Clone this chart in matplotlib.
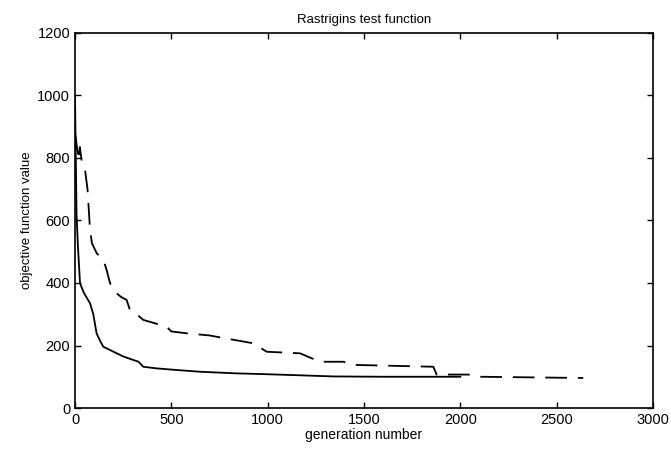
import numpy as np
import matplotlib.pyplot as plt

plt.rcParams['font.family'] = ['Liberation Sans', 'DejaVu Sans']

# solid curve
gen_a = [0, 3, 8, 15, 26, 45, 78, 95, 112, 130, 147, 200, 250, 301, 330, 354, 420, 519,
         650, 830, 1000, 1150, 1340, 1600, 1860, 2000]
val_a = [1000, 850, 620, 520, 399, 370, 335, 300, 239, 215, 196, 180, 165, 154, 148, 132,
         127, 122, 116, 111, 108, 105, 101, 100, 100, 100]

# dashed curve
gen_b = [0, 5, 10, 20, 25, 35, 52, 65, 78, 88, 113, 147, 165, 182, 216, 240, 268, 285,
         320, 354, 476, 500, 580, 700, 735, 925, 995, 1168, 1271, 1393, 1444, 1860,
         1877, 2040, 2102, 2638]
val_b = [880, 860, 835, 793, 835, 790, 762, 700, 570, 527, 495, 474, 440, 399, 367, 355,
         346, 314, 300, 282, 260, 245, 239, 232, 228, 207, 180, 175, 148, 148, 138, 132,
         107, 107, 100, 96]

fig = plt.figure(figsize=(6.71, 4.5), dpi=100)
ax = fig.add_axes([75 / 671, 1 - 408 / 450, (653 - 75) / 671, (408 - 33) / 450])

ax.plot(gen_a, val_a, color='black', lw=1.3)
ax.plot(gen_b, val_b, color='black', lw=1.3, dashes=(12, 6))

ax.set_xlim(0, 3000)
ax.set_ylim(0, 1200)
ax.set_xticks(range(0, 3001, 500))
ax.set_yticks(range(0, 1201, 200))
ax.tick_params(direction='in', top=True, right=True, length=4, width=1, labelsize=10.5,
               colors='black')
for s in ax.spines.values():
    s.set_linewidth(1.2)

ax.set_title('Rastrigins test function', fontsize=9.5, pad=7)
ax.set_xlabel('generation number', fontsize=10, labelpad=1)
ax.set_ylabel('objective function value', fontsize=9.5, labelpad=3)

plt.savefig('out.png', dpi=100)
